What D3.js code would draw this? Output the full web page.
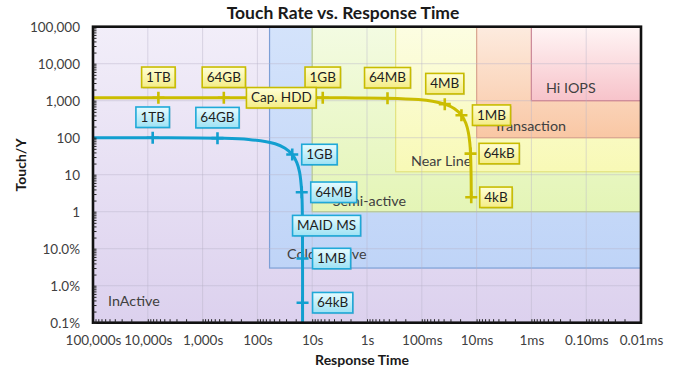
<!DOCTYPE html>
<html><head><meta charset="utf-8">
<script src="https://cdn.jsdelivr.net/npm/d3@7"></script>
<style>
body{margin:0;background:#fff;}
svg{display:block;font-family:Lato,'Open Sans',sans-serif;}
</style>
</head><body>
<svg id="c" width="677" height="369"></svg>
<script>
// ---------------- DATA ----------------
const xTickValues = [1e5, 1e4, 1e3, 100, 10, 1, 0.1, 0.01, 0.001, 1e-4, 1e-5];
const xTickLabels = ["100,000s","10,000s","1,000s","100s","10s","1s","100ms","10ms","1ms","0.10ms","0.01ms"];
const yTickValues = [1e5, 1e4, 1e3, 100, 10, 1, 0.1, 0.01, 0.001];
const yTickLabels = ["100,000","10,000","1,000","100","10","1","10.0%","1.0%","0.1%"];

const regionNames      = ["InActive", "Cold Archive", "Semi-active", "Near Line", "Transaction", "Hi IOPS"];
const regionSlowest    = [1e5, 60, 10, 0.3, 0.01, 0.001];   // response time (s), left edge
const regionFastest    = [1e-5, 1e-5, 1e-5, 1e-5, 1e-5, 1e-5];
const regionTouchMin   = [0.001, 0.03, 1, 12, 100, 1000];
const regionTouchMax   = [1e5, 1e5, 1e5, 1e5, 1e5, 1e5];

// Cap. HDD curve (response time s, touches per year, object size label)
const hddTime  = [100000, 6410, 410, 6.42, 1.65, 0.4225, 0.1151, 0.0638, 0.0381, 0.0253, 0.0189, 0.0157, 0.0141, 0.0133, 0.0129, 0.0126, 0.01253];
const hddTouch = [1200, 1200, 1200, 1198, 1191, 1165, 1070, 965, 806, 607, 406, 245, 136, 72, 37.2, 9.5, 2.45];
const hddSize  = ["", "1TB", "64GB", "1GB", "", "64MB", "", "", "4MB", "", "1MB", "", "", "", "64kB", "", "4kB"];

// MAID MS curve
const maidTime  = [100000, 8145, 535, 145, 47.5, 31.3, 23.13, 19.07, 17.03, 15.52, 15.13, 15.008, 15.0005, 15.0];
const maidTouch = [100, 99.8, 97.2, 89.7, 68.4, 52, 35.1, 21.3, 11.9, 3.35, 0.86, 0.0542, 0.00347, 0.000217];
const maidSize  = ["", "1TB", "64GB", "", "", "", "1GB", "", "", "64MB", "", "1MB", "64kB", ""];

const seriesNames = ["Cap. HDD", "MAID MS"];

// ---------------- LAYOUT / STYLE ----------------
const W = 677, H = 369;
const M = {left: 93, right: 641, top: 26.7, bottom: 322.7};
const svg = d3.select("#c");
const x = d3.scaleLog().domain([1e5, 1e-5]).range([M.left, M.right]);
const y = d3.scaleLog().domain([1e-3, 1e5]).range([M.bottom, M.top]);

const defs = svg.append("defs");
function grad(id, top, bot){
  const g = defs.append("linearGradient").attr("id", id).attr("x1",0).attr("y1",0).attr("x2",0).attr("y2",1);
  g.append("stop").attr("offset","0%").attr("stop-color", top);
  g.append("stop").attr("offset","100%").attr("stop-color", bot);
}
const regionStyle = [
  {top:"#f2eef9", bot:"#dcd1ee", stroke:"none"},
  {top:"#d4e3fb", bot:"#bfd4f7", stroke:"#7d9fd6"},
  {top:"#f3fbe2", bot:"#e4f5b6", stroke:"#bcd97a"},
  {top:"#fcfde2", bot:"#f8f9b6", stroke:"#e2e27e"},
  {top:"#fdebdf", bot:"#f9c7a4", stroke:"#f0a070"},
  {top:"#fff5f5", bot:"#f7c3ca", stroke:"#d9717d"}
];
regionStyle.forEach((s,i)=>grad("rg"+i, s.top, s.bot));
grad("boxY", "#ffffd6", "#f4ec86");
grad("boxB", "#e6fbff", "#9ee2f4");

defs.append("clipPath").attr("id","plotClip").append("rect")
  .attr("x", M.left).attr("y", M.top).attr("width", M.right-M.left).attr("height", M.bottom-M.top);

// regions
const gReg = svg.append("g");
regionNames.forEach((n,i)=>{
  const x0 = x(regionSlowest[i]), x1 = x(regionFastest[i]);
  const y0 = y(regionTouchMax[i]), y1 = y(regionTouchMin[i]);
  gReg.append("rect").attr("x", x0).attr("y", y0).attr("width", x1-x0).attr("height", y1-y0)
    .attr("fill", `url(#rg${i})`)
    .attr("stroke", regionStyle[i].stroke).attr("stroke-width", 1.2);
});

// grid
const gGrid = svg.append("g").attr("stroke", "#b8b4c8").attr("stroke-opacity", 0.45).attr("stroke-width", 1);
xTickValues.slice(1, -1).forEach(v=>{
  gGrid.append("line").attr("x1", x(v)).attr("x2", x(v)).attr("y1", M.top).attr("y2", M.bottom);
});
yTickValues.slice(1, -1).forEach(v=>{
  gGrid.append("line").attr("y1", y(v)).attr("y2", y(v)).attr("x1", M.left).attr("x2", M.right);
});

// region labels (pixel anchors)
const regionLabelPx = [
  [108, 301, "start"], [287, 254, "start"], [406, 201, "end"], [411, 161, "start"], [566, 126, "end"], [546, 88, "start"]
];
const gRL = svg.append("g").attr("font-size", 14.3).attr("fill", "#404040");
regionNames.forEach((n,i)=>{
  gRL.append("text").attr("x", regionLabelPx[i][0]).attr("y", regionLabelPx[i][1]).attr("dy", "0.35em")
    .attr("text-anchor", regionLabelPx[i][2]).text(n);
});

// curves
const line = d3.line().x(d=>x(d[0])).y(d=>y(d[1])).curve(d3.curveCatmullRom.alpha(0.5));
const hddPts = hddTime.map((t,i)=>[t, hddTouch[i], hddSize[i]]);
const maidPts = maidTime.map((t,i)=>[t, maidTouch[i], maidSize[i]]);
const series = [
  {pts: hddPts, color:"#cbbd00", box:"url(#boxY)", boxStroke:"#c8bc00"},
  {pts: maidPts, color:"#129fd0", box:"url(#boxB)", boxStroke:"#1fa9d8"}
];
const gCurves = svg.append("g").attr("clip-path", "url(#plotClip)");
series.forEach(s=>{
  gCurves.append("path").attr("d", line(s.pts)).attr("fill","none")
    .attr("stroke", s.color).attr("stroke-width", 3).attr("stroke-linecap","butt");
  s.pts.filter(p=>p[2]).forEach(p=>{
    const px = x(p[0]), py = y(p[1]);
    gCurves.append("path").attr("d", `M${px-6},${py}H${px+6}M${px},${py-6}V${py+6}`)
      .attr("stroke", s.color).attr("stroke-width", 2.6).attr("fill","none");
  });
});

// label boxes
const gBox = svg.append("g").attr("font-size", 13.5);
function box(cx, cy, text, s, anchor){
  const g = gBox.append("g");
  const t = g.append("text").attr("y", cy).attr("dy","0.35em").attr("fill","#1e1e1e").text(text);
  const w = t.node().getComputedTextLength() + 9;
  const h = 20.5;
  const left = anchor === "start" ? cx : cx - w/2;
  t.attr("x", left + w/2).attr("text-anchor","middle");
  g.insert("rect","text").attr("x", left+1.2).attr("y", cy-h/2+1.2).attr("width", w).attr("height", h)
    .attr("fill","#000").attr("opacity",0.12);
  g.insert("rect","text").attr("x", left).attr("y", cy-h/2).attr("width", w).attr("height", h)
    .attr("fill", s.box).attr("stroke", s.boxStroke).attr("stroke-width", 1.6);
}
// placement of size labels: "up" = centered above, number = left edge offset to the right
const hddPlace  = {"1TB":"up","64GB":"up","1GB":"up","64MB":"up","4MB":"up","1MB":11,"64kB":8.5,"4kB":8.5};
const maidPlace = {"1TB":"up","64GB":"up","1GB":9.5,"64MB":9,"1MB":10,"64kB":10};
[hddPlace, maidPlace].forEach((pl, si)=>{
  const s = series[si];
  s.pts.filter(p=>p[2]).forEach(p=>{
    const px = x(p[0]), py = y(p[1]);
    const place = pl[p[2]];
    if (place === "up") box(px, py-20.5, p[2], s, "middle");
    else box(px + place, py, p[2], s, "start");
  });
});
// series name labels
box(x(36.6), y(1200), seriesNames[0], series[0], "middle");
box(x(15) - 10, y(0.42), seriesNames[1], series[1], "start");

// axes: frame
svg.append("rect").attr("x", M.left).attr("y", M.top).attr("width", M.right-M.left).attr("height", M.bottom-M.top)
  .attr("fill","none").attr("stroke","#111").attr("stroke-width", 2.6);

// minor/major tick marks (inside)
const minorX = [], minorY = [];
for (let d=-5; d<5; d++) for (let m=1; m<10; m++){ const v=m*Math.pow(10,d); if (v<=1e5 && v>=1e-5) minorX.push(v); }
for (let d=-3; d<5; d++) for (let m=1; m<10; m++){ const v=m*Math.pow(10,d); if (v<=1e5) minorY.push(v); }
const gx = svg.append("g").attr("transform", `translate(0,${M.bottom})`)
  .call(d3.axisTop(x).tickValues(minorX).tickSize(3.5).tickFormat(""));
gx.select(".domain").remove();
gx.selectAll("line").attr("stroke","#222");
const gy = svg.append("g").attr("transform", `translate(${M.left},0)`)
  .call(d3.axisRight(y).tickValues(minorY).tickSize(3.5).tickFormat(""));
gy.select(".domain").remove();
gy.selectAll("line").attr("stroke","#222");

// tick labels
const axB = svg.append("g").attr("transform", `translate(0,${M.bottom})`)
  .call(d3.axisBottom(x).tickValues(xTickValues).tickSize(0).tickPadding(12.5)
    .tickFormat((d,i)=>xTickLabels[i]));
axB.select(".domain").remove();
axB.selectAll("text").attr("font-family","Lato, sans-serif").attr("font-size",13.5).attr("fill","#404040");
const axL = svg.append("g").attr("transform", `translate(${M.left},0)`)
  .call(d3.axisLeft(y).tickValues(yTickValues).tickSize(0).tickPadding(13)
    .tickFormat((d,i)=>yTickLabels[i]));
axL.select(".domain").remove();
axL.selectAll("text").attr("font-family","Lato, sans-serif").attr("font-size",13.5).attr("fill","#404040");

// titles
svg.append("text").attr("x", 343).attr("y", 19).attr("text-anchor","middle")
  .attr("font-size", 17.5).attr("font-weight","bold").attr("fill","#1a1a1a").text("Touch Rate vs. Response Time");
svg.append("text").attr("x", 362).attr("y", 365).attr("text-anchor","middle")
  .attr("font-size", 14).attr("font-weight","bold").attr("fill","#1a1a1a").text("Response Time");
svg.append("text").attr("transform","translate(26,165) rotate(-90)").attr("text-anchor","middle")
  .attr("font-size", 14).attr("font-weight","bold").attr("fill","#1a1a1a").text("Touch/Y");
</script>
</body></html>
